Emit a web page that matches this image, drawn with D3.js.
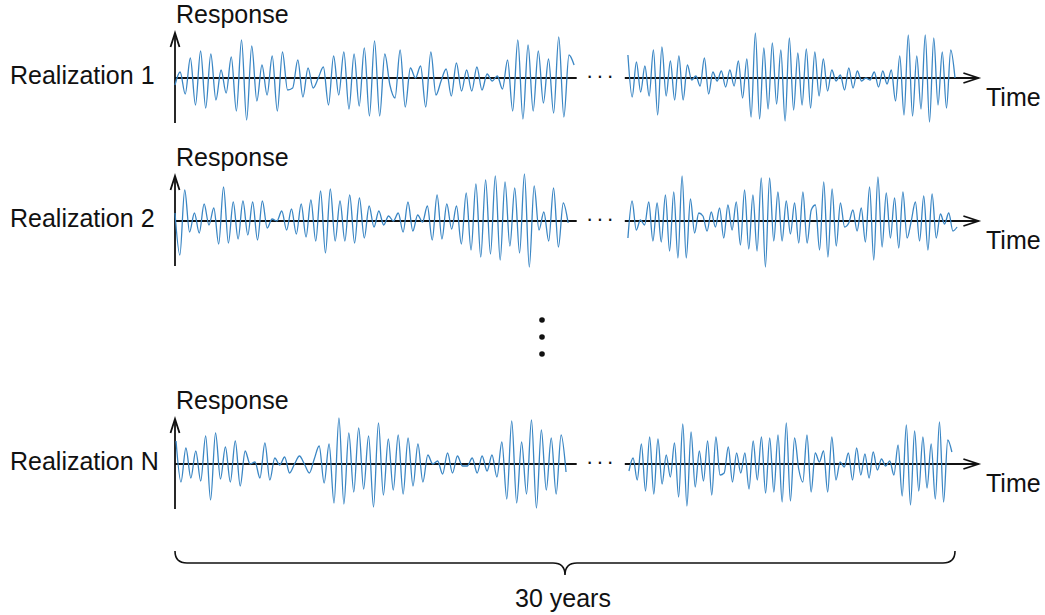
<!DOCTYPE html>
<html><head><meta charset="utf-8">
<script src="https://cdn.jsdelivr.net/npm/d3@7"></script>
<style>body{margin:0;background:#fff}svg{display:block}text{font-family:"Liberation Sans",Arial,sans-serif;fill:#111}</style>
</head><body><svg id="c" width="1045" height="615"></svg>
<script>
// ---- data ----
const realizationNames = ["Realization 1", "Realization 2", "Realization N"];
const spanYears = 30;
// time spans (years) of the two drawn pieces of each realization
const r1Spans = [[0, 15.35], [17.42, 30]];
const r2Spans = [[0, 15.12], [17.42, 30.08]];
const rNSpans = [[0.04, 15.04], [17.46, 29.88]];
// successive extremes of the response (arbitrary units)
const r1a = [-7,6,-16,20,-27,27,-30,24,-22,8,-15,21,-33,38,-42,32,-23,13,-17,22,-33,26,-12,-10,18,-19,10,-10,0,11,-27,22,-17,26,-31,24,-28,30,-38,37,-38,24,-7,-20,28,-29,10,0,12,-29,26,-17,-3,9,-18,15,-13,8,-13,11,-12,4,-3,2,-11,18,-33,38,-41,33,-33,27,-25,19,-35,41,-39,23,13];
const r1b = [23,-19,16,-14,12,-18,28,-37,31,-18,17,-22,22,-22,13,-2,2,-8,20,-16,6,-3,7,-9,8,-8,17,-20,19,-39,45,-41,30,-31,35,-26,28,-43,40,-32,25,-27,29,-30,26,-18,19,-13,8,-3,3,-12,10,-10,7,-3,0,-2,6,-9,7,-6,8,-23,22,-37,43,-38,22,-31,43,-44,40,-27,26,-30,28,0];
const r2a = [8,-34,31,-11,8,-12,17,-4,13,-23,34,-22,19,-18,20,-14,19,-19,20,-7,2,0,10,-9,12,-13,17,-16,21,-20,30,-32,32,-20,20,-20,26,-22,23,-17,15,-6,10,-4,5,0,8,-11,19,-10,6,-1,15,-19,26,-18,17,-8,15,-23,28,-29,37,-36,41,-33,45,-39,39,-25,33,-32,47,-46,35,-9,9,-20,33,-26,18,-2];
const r2b = [-17,20,-9,1,-4,19,-20,18,-21,26,-30,29,-37,45,-37,22,-12,8,5,-10,9,-6,13,-17,16,-9,19,-24,31,-28,26,-30,43,-46,43,-20,29,-20,20,-13,18,-22,29,-22,11,16,-29,39,-36,32,-25,18,-6,-2,11,-10,13,-21,34,-39,44,-26,28,-17,23,-27,29,-17,0,19,-20,25,-29,27,-17,7,-3,8,-10,-6];
const rNa = [23,-18,16,-14,13,-17,28,-36,31,-15,17,-18,23,-22,13,0,2,-14,21,-16,6,-1,7,-9,0,8,0,-9,5,18,-19,20,-39,46,-40,31,-28,36,-25,28,-43,41,-31,25,-26,29,-30,26,-22,20,-18,9,0,3,-10,11,-9,8,-2,-2,6,-9,8,-7,9,-13,22,-35,43,-39,22,-30,44,-44,34,-26,26,-30,29,-8];
const rNb = [-7,6,-16,20,-27,27,-30,25,-20,9,-13,21,-33,40,-42,32,-23,13,-17,23,-31,27,-11,-9,17,-18,11,-9,11,-25,23,-16,27,-29,26,-28,29,-38,41,-37,26,-5,-18,29,-28,11,2,13,-28,27,-16,2,-3,11,-16,16,-11,10,-14,12,-6,5,-2,3,-11,19,-32,39,-41,33,-27,27,-24,20,-35,42,-38,24,12];
const braceLabel = "30 years";

// ---- drawing ----
const svg = d3.select("#c");
const x = d3.scaleLinear().domain([0, spanYears]).range([175, 955]);
const rows = [
  {name: realizationNames[0], spans: r1Spans, series: [r1a, r1b], cy: 78},
  {name: realizationNames[1], spans: r2Spans, series: [r2a, r2b], cy: 221},
  {name: realizationNames[2], spans: rNSpans, series: [rNa, rNb], cy: 464}
];
const blue = "#3a86c4";
const fs = 25;
rows.forEach(r => {
  const y = d3.scaleLinear().domain([-50, 50]).range([r.cy + 50, r.cy - 50]);
  const g = svg.append("g");
  // horizontal axis (broken)
  g.append("line").attr("x1", x(0)).attr("x2", x(15.45)).attr("y1", r.cy).attr("y2", r.cy)
    .attr("stroke", "#111").attr("stroke-width", 1.8);
  g.append("line").attr("x1", x(17.3)).attr("x2", x(30.9)).attr("y1", r.cy).attr("y2", r.cy)
    .attr("stroke", "#111").attr("stroke-width", 1.8);
  const tipX = x(30.9);
  g.append("path").attr("d", `M${tipX-15},${r.cy-5}L${tipX},${r.cy}L${tipX-15},${r.cy+5}`)
    .attr("fill", "none").attr("stroke", "#111").attr("stroke-width", 1.8);
  // vertical axis
  g.append("line").attr("x1", x(0)).attr("x2", x(0)).attr("y1", y(45)).attr("y2", y(-45))
    .attr("stroke", "#111").attr("stroke-width", 1.8);
  g.append("path").attr("d", `M${x(0)-4.5},${y(45)+14}L${x(0)},${y(45)}L${x(0)+4.5},${y(45)+14}`)
    .attr("fill", "none").attr("stroke", "#111").attr("stroke-width", 1.8);
  // signals
  r.series.forEach((vals, i) => {
    const [t0, t1] = r.spans[i];
    const tt = d3.scaleLinear().domain([0, vals.length - 1]).range([t0, t1]);
    const line = d3.line().x((d, k) => x(tt(k))).y(d => y(d)).curve(d3.curveMonotoneX);
    g.append("path").attr("d", line(vals)).attr("fill", "none")
      .attr("stroke", blue).attr("stroke-width", 1.3);
  });
  // break dots
  g.append("text").attr("x", x(16.4)).attr("y", r.cy + 5).attr("text-anchor", "middle")
    .attr("font-size", 22).attr("letter-spacing", 3).text("···");
  // labels
  g.append("text").attr("x", x(0) + 1).attr("y", r.cy - 55).attr("font-size", fs).text("Response");
  g.append("text").attr("x", 10).attr("y", r.cy + 6).attr("font-size", fs).text(r.name);
  g.append("text").attr("x", 986).attr("y", r.cy + 28).attr("font-size", fs).text("Time");
});
// vertical ellipsis
[320, 337, 354].forEach(cy => svg.append("circle").attr("cx", 542).attr("cy", cy).attr("r", 2.8).attr("fill", "#111"));
// brace
const bx0 = x(0), bx1 = x(spanYears), bm = (bx0 + bx1) / 2, by = 551;
svg.append("path").attr("d",
  `M${bx0},${by} Q${bx0},${by+12} ${bx0+12},${by+12} L${bm-12},${by+12} Q${bm},${by+12} ${bm},${by+24} Q${bm},${by+12} ${bm+12},${by+12} L${bx1-12},${by+12} Q${bx1},${by+12} ${bx1},${by}`)
  .attr("fill", "none").attr("stroke", "#111").attr("stroke-width", 1.6);
svg.append("text").attr("x", bm - 2).attr("y", 607).attr("text-anchor", "middle").attr("font-size", fs).text(braceLabel);
</script></body></html>
